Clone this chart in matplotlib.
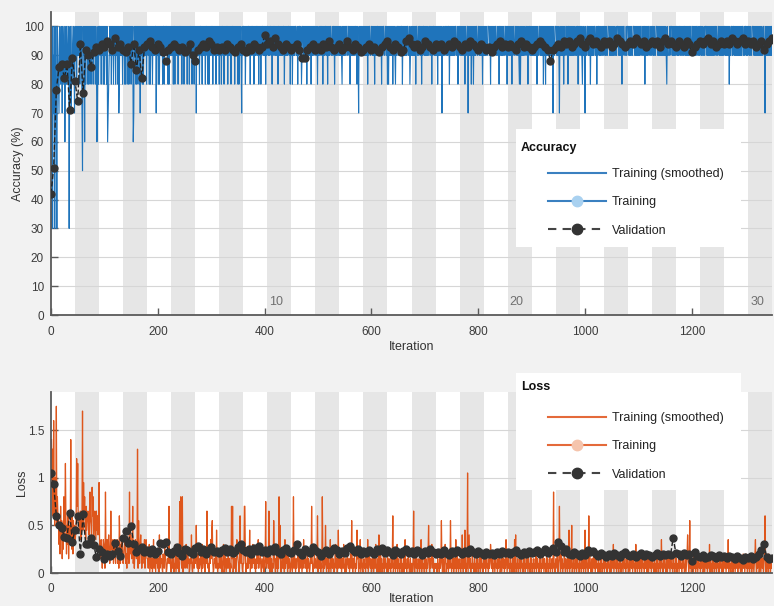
import numpy as np
import matplotlib
matplotlib.use('Agg')
import matplotlib.pyplot as plt
from matplotlib.lines import Line2D
from matplotlib.patches import Rectangle

plt.rcParams['font.family'] = ['Liberation Sans', 'DejaVu Sans']

# ---- data ----
iters_per_epoch = 45
n_epochs = 30
val_every = 5
epoch_labels = [10, 20, 30]
xticks = [0, 200, 400, 600, 800, 1000, 1200]
acc_ticks = [0, 10, 20, 30, 40, 50, 60, 70, 80, 90, 100]
loss_ticks = [0, 0.5, 1, 1.5]
loss_ticklabels = ['0', '0.5', '1', '1.5']

# mini-batch accuracy, one char per iteration: digit = tens of %, '#' = 100
train_acc_rows = [
    "3#397 #38#7 3#987 #98#9 7#89# 69#8# 98#39 #87#9 8#97#",
    "9#8#9 #9#8# 9#75# 9#6#8 #9#8# 8#9#8 #9#8# 9#8#9 67#8#",
    "#9#8# 9#8#8 #9#8# 6789# 9#8#9 #8#9# 8#9#8 #78#9 #9#8#",
    "9#8#8 #9#8# 8#9#8 #9#67 #9#8# 8#9#8 #7#9# 8#8#9 #9#8#",
    "#9#8# 8#9#8 #9#9# #7#9# 8#8#9 #9#8# #8#9# #9#8# 8#9#9",
    "#9#8# #8#9# 9#8#9 ##9#8 #9#8# 9#9#8 #9#8# #9#8# 9#8#9",
    "#7#9# 9#8## 9#8#9 #9#8# #9#8# 8#9#9 ##8#9 #9#8# 9#9#8",
    "#9#8# #9#8# 9#9## 8#9#9 #8#9# #9#8# 9#9#8 #8#9# 97#9#",
    "#9#8# 9#9## 9#8#9 ##9#8 #9#9# #9#8# 9#8#9 ##9#9 #8#9#",
    "#9#9# #9#8# 9##9# 9#9#8 ##9#9 #9#9# #8#9# 9#9## 9#8#9",
    "#8#9# 9##99 #8#9# #9#89 ##9#9 #9#8# 9#9#9 #8#9# 9##99",
    "#9#8# 99#9# #9#8# 9#9## 9#8#9 #9##9 9#9## 8#9#9 #99#9",
    "#9#98 #9#9# 9##99 ##9#8 #9#9# 9#9## 9#8#9 7#9#9 #99#9",
    "#9#9# 9#8#9 ##99# #9#9# 8#9#9 ##9#9 #9#8# 9##99 ##9#8",
    "#8#9# 9#9#8 #9#98 #99## 9#9#9 ##8#9 #9#9# 9##99 #89#9",
    "#9#9# 9#8## 99#9# #9#8# 9##9# 9#9#9 #99## 9#8#9 ##9#9",
    "#9#8# 9#9#9 #79#9 #99## 9#9## 8#9#9 #9#9# 9##99 #8#9#",
    "#9#9# 9#9#8 #99## 7#9#9 #8#9# 8#9#9 ##99# #9#9# 9#8#9",
    "#9#9# 99### 9#8#9 #9#9# 9##99 #9#8# #9#9# 9#99# #9#8#",
    "#9#9# 9#8#9 ##99# #9#9# 98#8# 9#9#9 #99## 9#8#9 ##9#9",
    "#9#9# 9#9#8 #99## 9#9#9 #8#9# 8#9#9 #9#9# 9#9#7 #99##",
    "#9#9# 97#9# 9#9#8 #99## 9#8## 9#9#9 #9#9# 99#9# #8#9#",
    "#9#98 #9#97 #99## 9#9#8 #9#9# 9##99 #8#9# #9#9# 99#9#",
    "#9#9# 99### 9#9#9 #9#9# 99#9# ##9#9 #9#8# 9##99 9#9##",
    "#9#9# 9#99# ##9#9 #9#9# 9#9## 99#9# #8#9# 9#9## 99#9#",
    "#9#9# 99### 9#9#9 #9#9# 9#9#9 #98#9 99#9# ##9#9 #9#9#",
    "#9#9# 9##9# 99#9# #9#9# 9#9#9 ##99# #9#9# 9#9## 99#9#",
    "#9#9# 99#9# ##9#9 #9#9# 9#9#9 #9##9 #99## 9#9#9 #9#9#",
    "#9#9# 9#9#8 #99## 9##9# 9#9#9 #9#9# 9#9## 99#9# #9#9#",
    "#9#9# 99### 9#9#9 #9#9# 9#9#9 #99## 97#9# 9#9#9 #9#9#",
]

# mini-batch loss, one char per iteration: base-36 digit in steps of 0.05
train_loss_rows = [
    "siqcw eakcz agcc6 a4e8b 3a5g7 cnb4a 6d3a7 8sa5c 4b7a6",
    "8aoen bc9ad 7bcy9 jcga7 e9bdc 8dhba 7icg6 bda7d 9c8aj",
    "63674 15763 1h467 36852 4d563 72574 26672 51c62 63752",
    "35762 41637 2h485 36e25 14763 5q1b4 26851 42637 15743",
    "31460 24130 37142 03241 30814 23104 21642 01324 e2310",
    "23140 21602 41320 f3g21 g0324 13621 42301 32810 23142",
    "3a214 03124 20614 23014 2d312 04273 9b201 32419 30214",
    "21340 13601 42031 24130 21e3e 02413 02743 201c3 24102",
    "2ee30 21413 29024 13624 12031 42713 24103 21402 3f142",
    "31d20 41302 1b420 31602 1g3a1 02413 20714 23041 32014",
    "203g1 42031 24603 21420 31724 13204 13201 42e31 02413",
    "213c0 24130 21g40 312a2 03140 21702 41320 14613 02913",
    "21402 31620 13024 21302 41b20 31420 21934 02170 24102",
    "31204 21702 42130 21402 31620 13082 04130 21502 31204",
    "20312 0413c 02140 31603 12041 30213 02712 03142 01302",
    "203d1 02413 02130 21702 31204 13021 4a203 12641 30212",
    "12031 20413 b2031 02640 21302 41b30 21402 31704 12031",
    "20318 20419 3021l 04813 02141 20312 04130 21402 31204",
    "21302 41203 12641 30213 02412 03142 01302 41302 17302",
    "41203 12041 30718 02130 21402 31204 13021 42031 20413",
    "02130 21402 31204 13021 42031 20413 02140 21302 h1203",
    "21402 3e204 13021 42031 20419 0413a 02140 21302 41203",
    "12041 30219 02412 0c142 01302 41302 41203 12041 30213",
    "02412 03142 01302 41602 41203 12041 30213 02412 03142",
    "01302 41302 41206 12041 30213 02412 03142 01302 41302",
    "41203 12041 30213 02712 03142 01302 41302 41203 12041",
    "30213 02412 03142 01302 48302 b1203 12041 30213 02412",
    "03142 01302 41302 41603 12041 30213 02412 03142 01302",
    "41302 41703 12041 30213 02412 03142 01302 41302 41203",
    "12041 30213 02472 03142 01302 41302 4c203 12041 30213",
]

# validation accuracy (%) every 5 iterations, starting at iteration 0
val_acc = [42,
    51, 78, 86, 87, 82, 87, 71, 89, 81,
    74, 94, 77, 92, 90, 86, 91, 93, 92,
    94, 93, 95, 94, 92, 96, 93, 94, 92,
    91, 93, 87, 94, 85, 92, 82, 93, 94,
    95, 93, 92, 94, 93, 91, 88, 92, 93,
    94, 93, 92, 93, 91, 92, 94, 90, 88,
    92, 93, 94, 93, 95, 94, 92, 93, 92,
    93, 92, 94, 93, 92, 91, 93, 94, 92,
    91, 93, 92, 94, 93, 92, 93, 97, 94,
    95, 93, 96, 94, 93, 92, 94, 93, 92,
    93, 94, 92, 89, 89, 92, 93, 94, 92,
    93, 92, 94, 93, 95, 93, 92, 93, 94,
    92, 93, 95, 93, 92, 94, 93, 91, 92,
    93, 94, 92, 93, 92, 91, 93, 94, 95,
    93, 92, 94, 93, 91, 92, 95, 96, 94,
    93, 94, 92, 93, 95, 94, 93, 92, 94,
    93, 94, 92, 93, 94, 93, 95, 94, 93,
    92, 94, 93, 95, 94, 93, 92, 94, 93,
    92, 93, 91, 93, 94, 95, 93, 94, 93,
    94, 93, 92, 94, 95, 93, 94, 93, 92,
    93, 94, 95, 94, 93, 92, 88, 92, 93,
    94, 93, 95, 94, 95, 93, 94, 95, 96,
    94, 93, 95, 96, 94, 95, 94, 93, 95,
    94, 95, 93, 94, 96, 95, 94, 93, 94,
    95, 94, 96, 95, 94, 95, 93, 94, 95,
    94, 95, 93, 95, 96, 94, 95, 94, 93,
    95, 94, 93, 95, 94, 91, 93, 94, 95,
    94, 95, 96, 94, 95, 93, 94, 95, 94,
    95, 94, 96, 95, 94, 95, 96, 94, 95,
    94, 95, 93, 94, 95, 92, 94, 95, 96]

# validation loss every 5 iterations, starting at iteration 0
val_loss = [1.05,
    0.93, 0.60, 0.50, 0.47, 0.38, 0.37, 0.63, 0.33, 0.45,
    0.60, 0.20, 0.62, 0.30, 0.30, 0.37, 0.29, 0.17, 0.25,
    0.22, 0.15, 0.20, 0.18, 0.20, 0.32, 0.23, 0.18, 0.37,
    0.44, 0.32, 0.49, 0.30, 0.22, 0.25, 0.27, 0.22, 0.24,
    0.21, 0.25, 0.20, 0.23, 0.31, 0.30, 0.33, 0.22, 0.20,
    0.23, 0.27, 0.21, 0.18, 0.25, 0.24, 0.22, 0.20, 0.26,
    0.28, 0.22, 0.25, 0.20, 0.24, 0.27, 0.22, 0.23, 0.21,
    0.24, 0.26, 0.22, 0.25, 0.21, 0.23, 0.27, 0.30, 0.24,
    0.22, 0.25, 0.20, 0.26, 0.23, 0.28, 0.22, 0.24, 0.21,
    0.25, 0.23, 0.27, 0.22, 0.20, 0.24, 0.26, 0.22, 0.21,
    0.24, 0.30, 0.22, 0.19, 0.25, 0.23, 0.21, 0.27, 0.24,
    0.22, 0.18, 0.21, 0.24, 0.20, 0.23, 0.26, 0.24, 0.20,
    0.23, 0.21, 0.26, 0.28, 0.24, 0.22, 0.25, 0.20, 0.23,
    0.21, 0.24, 0.22, 0.20, 0.25, 0.23, 0.26, 0.21, 0.24,
    0.22, 0.19, 0.24, 0.22, 0.20, 0.23, 0.25, 0.21, 0.23,
    0.20, 0.24, 0.22, 0.19, 0.23, 0.21, 0.25, 0.22, 0.20,
    0.22, 0.20, 0.24, 0.21, 0.19, 0.23, 0.21, 0.24, 0.22,
    0.20, 0.23, 0.21, 0.25, 0.22, 0.20, 0.23, 0.21, 0.19,
    0.22, 0.20, 0.21, 0.19, 0.22, 0.20, 0.23, 0.21, 0.22,
    0.20, 0.22, 0.24, 0.21, 0.19, 0.22, 0.20, 0.23, 0.21,
    0.22, 0.24, 0.20, 0.22, 0.25, 0.21, 0.23, 0.26, 0.22,
    0.33, 0.28, 0.22, 0.25, 0.20, 0.19, 0.22, 0.20, 0.18,
    0.21, 0.19, 0.24, 0.22, 0.23, 0.20, 0.18, 0.21, 0.19,
    0.17, 0.20, 0.18, 0.21, 0.19, 0.17, 0.20, 0.22, 0.19,
    0.18, 0.20, 0.17, 0.19, 0.21, 0.18, 0.20, 0.19, 0.17,
    0.19, 0.21, 0.18, 0.20, 0.19, 0.20, 0.19, 0.37, 0.21,
    0.20, 0.18, 0.21, 0.19, 0.20, 0.13, 0.22, 0.18, 0.17,
    0.19, 0.16, 0.17, 0.19, 0.18, 0.16, 0.19, 0.17, 0.18,
    0.16, 0.18, 0.17, 0.15, 0.18, 0.16, 0.14, 0.17, 0.16,
    0.18, 0.15, 0.17, 0.20, 0.24, 0.30, 0.17, 0.15, 0.16]

train_acc = [100 if c == '#' else int(c) * 10
             for c in ''.join(train_acc_rows).replace(' ', '')]
train_loss = [int(c, 36) / 20 for c in ''.join(train_loss_rows).replace(' ', '')]
train_iter = np.arange(1, len(train_acc) + 1)
val_iter = np.arange(len(val_acc)) * val_every

# ---- style ----
BLUE = '#1f74bb'
ORANGE = '#de561c'
VAL = '#333333'
BAND = '#e6e6e6'
W, H = 774, 606

def fx(px):
    return px / W

def fy(py):
    return 1 - py / H

fig = plt.figure(figsize=(W / 100, H / 100), dpi=100, facecolor='#f2f2f2')
ax1 = fig.add_axes([fx(51), fy(315), fx(772) - fx(51), fy(12) - fy(315)])
ax2 = fig.add_axes([fx(51), fy(573), fx(772) - fx(51), fy(392) - fy(573)])

xmax = iters_per_epoch * n_epochs
for ax in (ax1, ax2):
    ax.set_facecolor('white')
    for e in range(2, n_epochs + 1, 2):
        ax.axvspan((e - 1) * iters_per_epoch, e * iters_per_epoch,
                   color=BAND, lw=0, zorder=0)
    ax.set_axisbelow(True)
    ax.yaxis.grid(True, color='#d6d6d6', lw=0.8)
    ax.set_xlim(0, xmax)
    ax.set_xticks(xticks)
    for s in ('top', 'right'):
        ax.spines[s].set_visible(False)
    for s in ('left', 'bottom'):
        ax.spines[s].set_color('#5a5a5a')
        ax.spines[s].set_linewidth(1.3)
    ax.tick_params(direction='in', length=5, width=1, color='#5a5a5a',
                   labelcolor='#3c3c3c', labelsize=8.5, pad=5)

ax1.tick_params(axis='x', pad=8)
ax2.tick_params(axis='x', pad=7)
ax1.set_xlabel('Iteration', fontsize=9, color='#333333', labelpad=2)
ax2.set_xlabel('Iteration', fontsize=9, color='#333333', labelpad=-1)

# accuracy panel
ax1.plot(train_iter, train_acc, color=BLUE, lw=0.8, zorder=2)
ax1.plot(val_iter, val_acc, color='#222222', ls='--', lw=1, marker='o', ms=5,
         mfc=VAL, mec=VAL, zorder=3)
ax1.set_ylim(0, 105)
ax1.set_yticks(acc_ticks)
ax1.set_ylabel('Accuracy (%)', fontsize=9, color='#333333', labelpad=0)
for ep in epoch_labels:
    ax1.text((ep - 1) * iters_per_epoch + 4, 4.5, str(ep), fontsize=9,
             color='#707070', ha='left', va='center', zorder=1)

# loss panel
ax2.plot(train_iter, train_loss, color=ORANGE, lw=0.9, zorder=2)
ax2.plot(val_iter, val_loss, color='#222222', ls='--', lw=1, marker='o', ms=5,
         mfc=VAL, mec=VAL, zorder=3)
ax2.set_ylim(0, 1.9)
ax2.set_yticks(loss_ticks)
ax2.set_yticklabels(loss_ticklabels)
ax2.set_ylabel('Loss', fontsize=9, color='#333333', labelpad=0)


def panel_legend(ax, title, line_col, marker_col, box, title_y, first_y):
    x0, y0, x1, y1 = box
    ax.add_patch(Rectangle((fx(x0), fy(y1)), fx(x1) - fx(x0), fy(y0) - fy(y1),
                           transform=fig.transFigure, facecolor='white',
                           edgecolor='none', zorder=4, clip_on=False))
    ax.text(fx(521), fy(title_y), title, transform=fig.transFigure,
            fontsize=9, fontweight='bold', color='#111111',
            ha='left', va='center', zorder=6)
    handles = [
        Line2D([], [], color=line_col, lw=1.5),
        Line2D([], [], color=line_col, lw=1.5, marker='o', ms=7.5,
               mfc=marker_col, mec=marker_col),
        Line2D([], [], color='#444444', lw=1.5, ls=(0, (4, 3)), marker='o',
               ms=7.5, mfc=VAL, mec=VAL),
    ]
    labels = ['Training (smoothed)', 'Training', 'Validation']
    leg = ax.legend(handles, labels, loc='upper left',
                    bbox_to_anchor=(fx(548), fy(first_y - 8)),
                    bbox_transform=fig.transFigure, frameon=False,
                    fontsize=9, handlelength=4.6, handletextpad=0.5,
                    labelspacing=1.3, borderpad=0, borderaxespad=0,
                    numpoints=1)
    for t in leg.get_texts():
        t.set_color('#222222')
    leg.set_zorder(6)


panel_legend(ax1, 'Accuracy', '#3a80c0', '#a9d1f0', (516, 129, 741, 247), 148, 176)
panel_legend(ax2, 'Loss', '#e46a3a', '#f5c4ac', (516, 373, 741, 490), 387, 420)

fig.savefig('out.png', dpi=100, facecolor=fig.get_facecolor())
